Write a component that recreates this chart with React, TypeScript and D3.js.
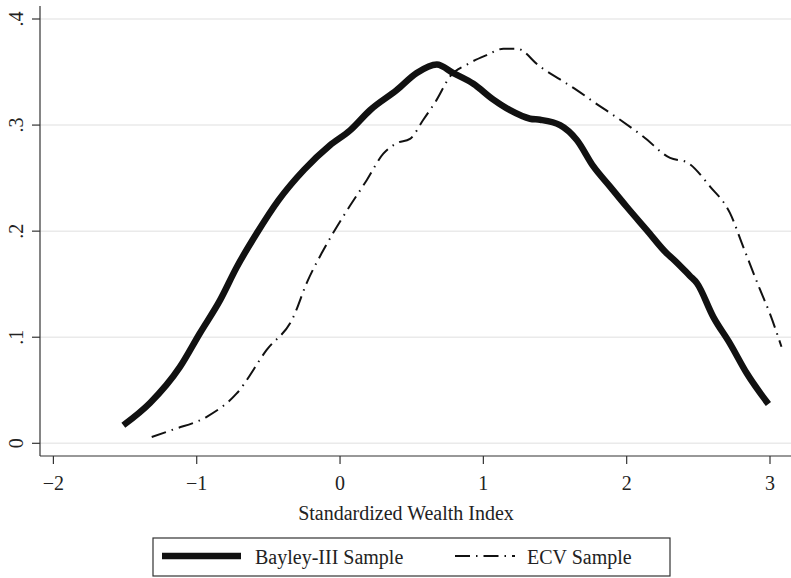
import React, { useEffect, useRef } from 'react';
import * as d3 from 'd3';

// density estimates
const bayleyX = [-1.512, -1.326, -1.117, -0.977, -0.837, -0.721, -0.581, -0.43, -0.25, -0.07, 0.07, 0.209, 0.396, 0.535, 0.675, 0.791, 0.93, 1.07, 1.186, 1.326, 1.396, 1.535, 1.652, 1.768, 1.884, 2.0, 2.14, 2.28, 2.33, 2.44, 2.49, 2.605, 2.721, 2.838, 2.989];
const bayleyY = [0.017, 0.038, 0.072, 0.104, 0.135, 0.166, 0.198, 0.229, 0.258, 0.281, 0.295, 0.314, 0.333, 0.349, 0.357, 0.349, 0.339, 0.324, 0.314, 0.306, 0.305, 0.3, 0.286, 0.261, 0.242, 0.223, 0.201, 0.179, 0.173, 0.158, 0.151, 0.119, 0.094, 0.066, 0.037];

const ecvX = [-1.314, -1.163, -0.93, -0.721, -0.512, -0.326, -0.233, -0.117, 0.023, 0.186, 0.302, 0.396, 0.488, 0.581, 0.675, 0.768, 0.884, 1.024, 1.14, 1.233, 1.396, 1.535, 1.652, 1.768, 1.954, 2.117, 2.303, 2.419, 2.582, 2.721, 2.814, 2.93, 3.0, 3.08];
const ecvY = [0.006, 0.013, 0.025, 0.047, 0.088, 0.119, 0.151, 0.182, 0.214, 0.248, 0.273, 0.283, 0.287, 0.305, 0.324, 0.346, 0.357, 0.366, 0.372, 0.372, 0.355, 0.343, 0.333, 0.322, 0.305, 0.289, 0.269, 0.265, 0.242, 0.217, 0.185, 0.145, 0.122, 0.091];

const xTicks = [-2, -1, 0, 1, 2, 3];
const xTickLabels = ['\u22122', '\u22121', '0', '1', '2', '3'];
const yTicks = [0, 0.1, 0.2, 0.3, 0.4];
const yTickLabels = ['0', '.1', '.2', '.3', '.4'];

const seriesNames = ['Bayley-III Sample', 'ECV Sample'];
const xTitle = 'Standardized Wealth Index';

const W = 791;
const H = 578;
const FONT = '"Liberation Serif", "Times New Roman", serif';
const DASH = '15 6 1.5 6';

function App() {
  const svgRef = useRef<SVGSVGElement>(null);

  useEffect(() => {
    const svg = d3.select(svgRef.current);
    svg.selectAll('*').remove();

    const x = d3.scaleLinear().domain([-2, 3]).range([53.4, 770]);
    const y = d3.scaleLinear().domain([0, 0.4]).range([443.3, 19]);

    const axisLeft = 40;
    const axisBottom = 456;

    // gridlines
    svg.selectAll('.grid')
      .data(yTicks)
      .enter().append('line')
      .attr('x1', axisLeft).attr('x2', W)
      .attr('y1', d => y(d)).attr('y2', d => y(d))
      .attr('stroke', '#eaeaea')
      .attr('stroke-width', 1.5);

    // axes
    svg.append('line')
      .attr('x1', axisLeft).attr('x2', axisLeft)
      .attr('y1', 6).attr('y2', axisBottom)
      .attr('stroke', '#333').attr('stroke-width', 1.2);
    svg.append('line')
      .attr('x1', axisLeft).attr('x2', W)
      .attr('y1', axisBottom).attr('y2', axisBottom)
      .attr('stroke', '#333').attr('stroke-width', 1.2);

    // y ticks + rotated labels
    yTicks.forEach((t, i) => {
      svg.append('line')
        .attr('x1', axisLeft - 8).attr('x2', axisLeft)
        .attr('y1', y(t)).attr('y2', y(t))
        .attr('stroke', '#333').attr('stroke-width', 1.2);
      svg.append('text')
        .attr('transform', `translate(23,${y(t)}) rotate(-90)`)
        .attr('text-anchor', 'middle')
        .attr('font-family', FONT)
        .attr('font-size', 20)
        .attr('fill', '#222')
        .text(yTickLabels[i]);
    });

    // x ticks + labels
    xTicks.forEach((t, i) => {
      svg.append('line')
        .attr('x1', x(t)).attr('x2', x(t))
        .attr('y1', axisBottom).attr('y2', axisBottom + 8)
        .attr('stroke', '#333').attr('stroke-width', 1.2);
      svg.append('text')
        .attr('x', x(t))
        .attr('y', 490)
        .attr('text-anchor', 'middle')
        .attr('font-family', FONT)
        .attr('font-size', 20)
        .attr('fill', '#222')
        .text(xTickLabels[i]);
    });

    svg.append('text')
      .attr('x', 406).attr('y', 520)
      .attr('text-anchor', 'middle')
      .attr('font-family', FONT)
      .attr('font-size', 20)
      .attr('fill', '#222')
      .text(xTitle);

    const line = d3.line<[number, number]>()
      .x(d => x(d[0]))
      .y(d => y(d[1]))
      .curve(d3.curveMonotoneX);

    const bayley = bayleyX.map((v, i) => [v, bayleyY[i]] as [number, number]);
    const ecv = ecvX.map((v, i) => [v, ecvY[i]] as [number, number]);

    svg.append('path')
      .attr('d', line(ecv))
      .attr('fill', 'none')
      .attr('stroke', '#111')
      .attr('stroke-width', 2)
      .attr('stroke-dasharray', DASH);

    svg.append('path')
      .attr('d', line(bayley))
      .attr('fill', 'none')
      .attr('stroke', '#111')
      .attr('stroke-width', 6.5)
      .attr('stroke-linejoin', 'round');

    // legend
    const lg = svg.append('g');
    lg.append('rect')
      .attr('x', 153).attr('y', 538)
      .attr('width', 517).attr('height', 38)
      .attr('fill', 'white')
      .attr('stroke', '#333').attr('stroke-width', 1.2);
    lg.append('line')
      .attr('x1', 162).attr('x2', 241)
      .attr('y1', 556).attr('y2', 556)
      .attr('stroke', '#111').attr('stroke-width', 6.5);
    lg.append('text')
      .attr('x', 255).attr('y', 564)
      .attr('font-family', FONT).attr('font-size', 20).attr('fill', '#222')
      .text(seriesNames[0]);
    lg.append('line')
      .attr('x1', 455).attr('x2', 515)
      .attr('y1', 556).attr('y2', 556)
      .attr('stroke', '#111').attr('stroke-width', 2)
      .attr('stroke-dasharray', DASH);
    lg.append('text')
      .attr('x', 527).attr('y', 564)
      .attr('font-family', FONT).attr('font-size', 20).attr('fill', '#222')
      .text(seriesNames[1]);
  }, []);

  return (
    <svg ref={svgRef} width={W} height={H}
      style={{ position: 'absolute', left: 0, top: 0, background: 'white' }} />
  );
}

export default App;
